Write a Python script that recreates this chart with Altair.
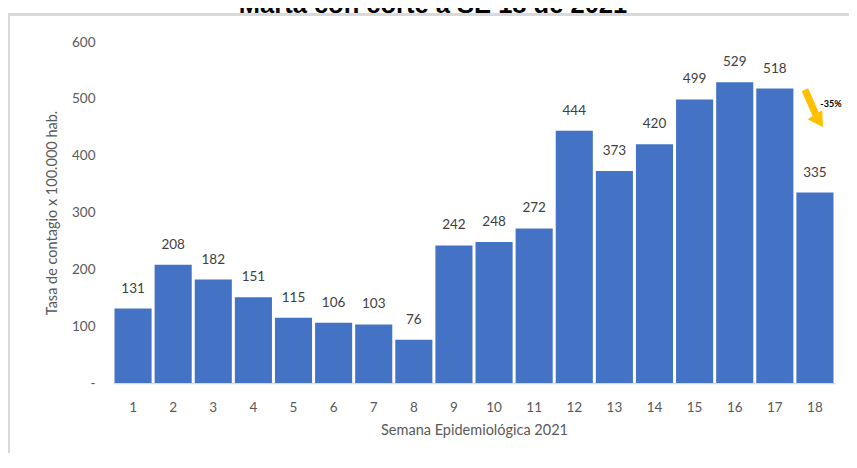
import altair as alt
import pandas as pd

weeks = list(range(1, 19))
rates = [131, 208, 182, 151, 115, 106, 103, 76, 242, 248, 272, 444, 373, 420, 499, 529, 518, 335]
title_text = "Marta con corte a SE 18 de 2021"
y_title = "Tasa de contagio x 100.000 hab."
x_title = "Semana Epidemiológica 2021"
change_label = "-35%"
arrow_week = [18]
arrow_y_start = [516]
arrow_y_end = [472]
arrow_head_y = [461]
change_y = [491]

df = pd.DataFrame({"week": weeks, "rate": rates})
W, H = 722, 341
FONT = "Lato"
GREY = "#595959"

xscale = alt.Scale(paddingInner=0.075, paddingOuter=0.0375)
x_enc = alt.X("week:O", scale=xscale, sort=weeks,
              axis=alt.Axis(title=x_title, labelAngle=0, ticks=False,
                            domainColor="#d9d9d9", domainWidth=1.5,
                            labelPadding=17, labelFontSize=13.5, labelColor=GREY,
                            labelFont=FONT, titleFont=FONT, titleFontSize=14.5,
                            titleColor=GREY, titleFontWeight="normal", titlePadding=10))
y_enc = alt.Y("rate:Q", scale=alt.Scale(domain=[0, 600], nice=False),
              axis=alt.Axis(title=y_title, values=[0, 100, 200, 300, 400, 500, 600],
                            labelExpr="datum.value == 0 ? '-' : datum.label",
                            ticks=False, domain=False, grid=False, labelPadding=18,
                            labelFontSize=13.5, labelColor=GREY, labelFont=FONT,
                            titleFont=FONT, titleFontSize=14.5, titleColor=GREY,
                            titleFontWeight="normal", titlePadding=12))

base = alt.Chart(df)
bars = base.mark_bar(color="#4472C4").encode(x=x_enc, y=y_enc)
labels = base.mark_text(baseline="bottom", dy=-13, font=FONT, fontSize=13.5,
                        color="#404040").encode(x=alt.X("week:O", sort=weeks),
                                                y="rate:Q", text="rate:Q")

adf = pd.DataFrame({"week": arrow_week, "y1": arrow_y_start, "y2": arrow_y_end,
                    "yh": arrow_head_y, "yt": change_y, "t": [change_label]})
ach = alt.Chart(adf)
shaft = ach.mark_rule(color="#FFC000", strokeWidth=7, xOffset=-10, x2Offset=1).encode(
    x=alt.X("week:O", sort=weeks), x2="week:O", y="y1:Q", y2="y2:Q")
head = ach.mark_point(shape="triangle-up", filled=True, color="#FFC000", opacity=1,
                      size=300, angle=148, xOffset=4, strokeWidth=0).encode(
    x=alt.X("week:O", sort=weeks), y="yh:Q")
pct = ach.mark_text(font=FONT, fontSize=9, fontWeight="bold", color="#000000",
                    xOffset=16).encode(x=alt.X("week:O", sort=weeks), y="yt:Q", text="t:N")

frame_top = alt.Chart(df).mark_rule(color="#d9d9d9", strokeWidth=2).encode(
    x=alt.value(-106), x2=alt.value(W + 14), y=alt.value(-27.5))
frame_left = alt.Chart(df).mark_rule(color="#d9d9d9", strokeWidth=2).encode(
    x=alt.value(-104), y=alt.value(-27.5), y2=alt.value(H + 72))
title = alt.Chart(pd.DataFrame({"t": [title_text]})).mark_text(
    font="Liberation Sans", fontSize=25.5, fontWeight="bold", color="#000000",
    align="center", baseline="alphabetic").encode(
    x=alt.value(320), y=alt.value(-29.5), text="t:N")

chart = alt.layer(bars, labels, shaft, head, pct, frame_top, frame_left, title).properties(
    width=W, height=H,
    autosize=alt.AutoSizeParams(type="none"),
    padding={"left": 105, "top": 34, "right": 14, "bottom": 70},
    background="white",
).configure_view(stroke=None, strokeWidth=0)

chart.save("out.html", embed_options={"renderer": "svg", "actions": False})
